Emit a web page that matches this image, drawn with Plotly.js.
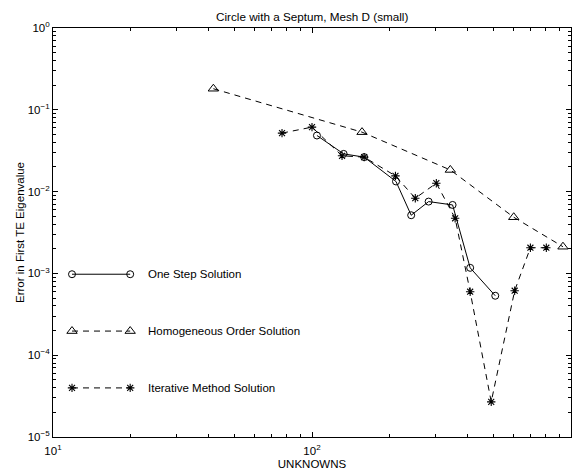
<!DOCTYPE html>
<html>
<head>
<meta charset="utf-8">
<script src="https://cdn.plot.ly/plotly-3.0.1.min.js"></script>
<style>
  html, body { margin: 0; padding: 0; background: #fff; }
  #chart { width: 576px; height: 472px; }
</style>
</head>
<body>
<div id="chart"></div>
<script>
// Convergence of the first TE eigenvalue error versus number of unknowns
const oneStepN   = [104.5, 132.5, 159, 211, 241.5, 282, 349, 408, 510];
const oneStepErr = [0.0485, 0.0289, 0.0264, 0.0133, 0.00514, 0.00755, 0.00687, 0.00117, 0.000533];

const homogN   = [41.6, 156, 342, 601, 931];
const homogErr = [0.181, 0.0533, 0.0184, 0.00486, 0.00212];

const iterN   = [76.6, 100, 130.6, 159, 210, 250.5, 302, 357, 408, 492, 606, 697, 803];
const iterErr = [0.0519, 0.0614, 0.0274, 0.0264, 0.01556, 0.0083, 0.01267, 0.00472, 0.000597, 0.0000269, 0.000614, 0.00206, 0.00206];

const legendNames = ['One Step Solution', 'Homogeneous Order Solution', 'Iterative Method Solution'];
const legendRows  = [0.398, 0.259, 0.120];
const legendSpan  = [0.0367, 0.149];
const legendTextX = 0.180;

const xTickVals = [10, 100, 1000];
const xTickText = ['10<sup>1</sup>', '10<sup>2</sup>', '10<sup>3</sup>'];
const yTickVals = [1e-5, 1e-4, 1e-3, 1e-2, 1e-1, 1];
const yTickText = ['10<sup>−5</sup>', '10<sup>−4</sup>', '10<sup>−3</sup>', '10<sup>−2</sup>', '10<sup>−1</sup>', '10<sup>0</sup>'];

function minorTicks(lo, hi) {
  const out = [];
  for (let e = lo; e < hi; e++) {
    for (let m = 2; m <= 9; m++) out.push(m * Math.pow(10, e));
  }
  return out;
}

const black = '#000000';
const fontFamily = 'Liberation Sans, Arial, sans-serif';
const styles = [
  { dash: 'solid', symbol: 'circle-open', size: 7, lw: 1 },
  { dash: '6px,5px', symbol: 'triangle-up-open', size: 9, lw: 1 },
  { dash: '6px,5px', symbol: 'asterisk-open', size: 7, lw: 1.1 }
];

function series(x, y, s) {
  return {
    type: 'scatter', mode: 'lines+markers', x: x, y: y,
    xaxis: 'x', yaxis: 'y', showlegend: false, hoverinfo: 'skip',
    line: { color: black, width: 1, dash: s.dash },
    marker: { symbol: s.symbol, size: s.size, color: black, line: { color: black, width: s.lw } }
  };
}

const traces = [
  series(oneStepN, oneStepErr, styles[0]),
  series(homogN, homogErr, styles[1]),
  series(iterN, iterErr, styles[2])
];

// Key samples drawn on a unit overlay axis
legendRows.forEach(function (row, i) {
  traces.push({
    type: 'scatter', mode: 'lines+markers',
    x: legendSpan, y: [row, row],
    xaxis: 'x2', yaxis: 'y2', showlegend: false, hoverinfo: 'skip',
    line: { color: black, width: 1, dash: styles[i].dash },
    marker: { symbol: styles[i].symbol, size: styles[i].size, color: black, line: { color: black, width: styles[i].lw } }
  });
});

const annotations = legendRows.map(function (row, i) {
  return {
    xref: 'x2', yref: 'y2', x: legendTextX, y: row,
    text: legendNames[i], showarrow: false,
    xanchor: 'left', yanchor: 'middle',
    font: { family: fontFamily, size: 11.5, color: black }
  };
});

const axisCommon = {
  type: 'log',
  showgrid: false, zeroline: false,
  showline: true, linecolor: black, linewidth: 1, mirror: 'ticks',
  ticks: 'inside', ticklen: 5, tickwidth: 1, tickcolor: black,
  tickmode: 'array',
  tickfont: { family: fontFamily, size: 11.5, color: black }
};

const layout = {
  width: 576, height: 472,
  paper_bgcolor: '#ffffff', plot_bgcolor: '#ffffff',
  margin: { l: 53, r: 5, t: 28, b: 35 },
  font: { family: fontFamily, size: 11, color: black },
  title: {
    text: 'Circle with a Septum, Mesh D (small)',
    font: { family: fontFamily, size: 11.7, color: black },
    x: 0.542, xanchor: 'center', y: 0.965, yanchor: 'middle', yref: 'container'
  },
  xaxis: Object.assign({}, axisCommon, {
    range: [1, 3],
    tickvals: xTickVals, ticktext: xTickText,
    ticklabelstandoff: 3,
    minor: { tickmode: 'array', tickvals: minorTicks(1, 3), ticks: 'inside', ticklen: 3, tickcolor: black, tickwidth: 1 },
    title: { text: 'UNKNOWNS', standoff: 4, font: { family: fontFamily, size: 11.5, color: black } }
  }),
  yaxis: Object.assign({}, axisCommon, {
    range: [-5, 0],
    tickvals: yTickVals, ticktext: yTickText,
    minor: { tickmode: 'array', tickvals: minorTicks(-5, 0), ticks: 'inside', ticklen: 3, tickcolor: black, tickwidth: 1 },
    title: { text: 'Error in First TE Eigenvalue', standoff: 0, font: { family: fontFamily, size: 11.5, color: black } }
  }),
  xaxis2: { overlaying: 'x', range: [0, 1], visible: false, fixedrange: true },
  yaxis2: { overlaying: 'y', range: [0, 1], visible: false, fixedrange: true },
  annotations: annotations
};

Plotly.newPlot('chart', traces, layout, { displayModeBar: false, staticPlot: true });
</script>
</body>
</html>
